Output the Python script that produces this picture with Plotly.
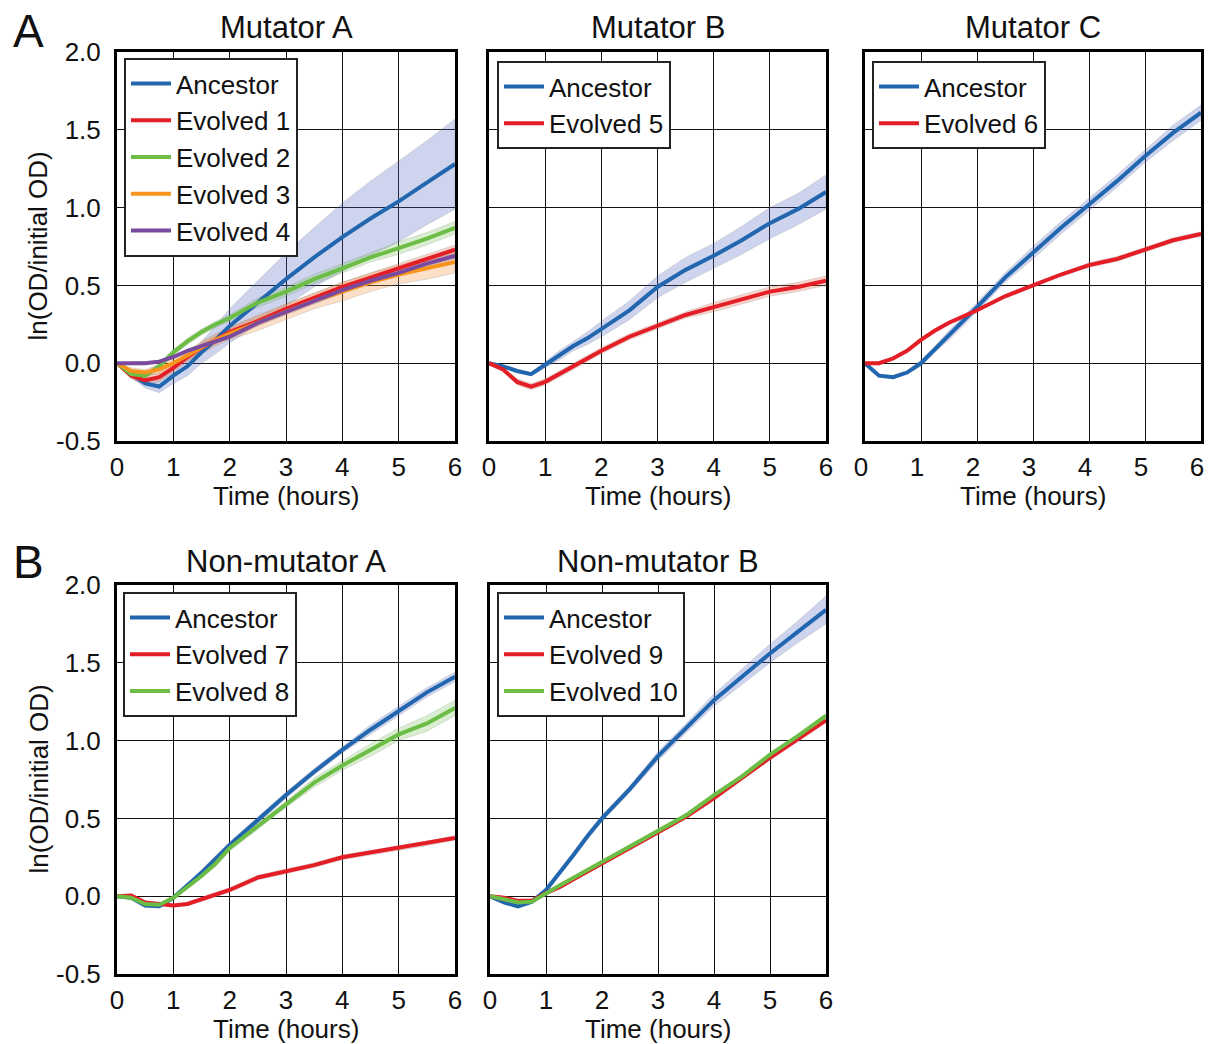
import plotly.graph_objects as go

# page offset (browser body margin) and figure size
OFF = 8
W, H = 1204, 1036

TIME = [0, 0.25, 0.5, 0.75, 1, 1.25, 1.5, 1.75, 2, 2.5, 3, 3.5, 4, 4.5, 5, 5.5, 6]

# ---- Mutator A ----
MA_ANC = [0, -0.07, -0.13, -0.15, -0.08, -0.02, 0.07, 0.15, 0.24, 0.39, 0.54, 0.68, 0.81, 0.93, 1.04, 1.16, 1.28]
MA_ANC_SD = [0, 0.02, 0.03, 0.04, 0.05, 0.06, 0.07, 0.09, 0.11, 0.14, 0.17, 0.19, 0.22, 0.24, 0.26, 0.27, 0.29]
MA_E1 = [0, -0.08, -0.11, -0.09, -0.03, 0.04, 0.10, 0.15, 0.20, 0.27, 0.35, 0.42, 0.49, 0.55, 0.61, 0.67, 0.73]
MA_E1_SD = [0, 0.02, 0.03, 0.03, 0.03, 0.03, 0.03, 0.03, 0.03, 0.03, 0.03, 0.03, 0.03, 0.03, 0.03, 0.03, 0.03]
MA_E2 = [0, -0.07, -0.08, -0.02, 0.07, 0.14, 0.20, 0.25, 0.29, 0.39, 0.46, 0.54, 0.61, 0.68, 0.74, 0.80, 0.87]
MA_E2_SD = [0, 0.01, 0.02, 0.02, 0.02, 0.02, 0.02, 0.02, 0.02, 0.03, 0.03, 0.03, 0.03, 0.03, 0.04, 0.04, 0.04]
MA_E3 = [0, -0.05, -0.06, -0.04, 0.00, 0.05, 0.10, 0.15, 0.19, 0.26, 0.33, 0.40, 0.46, 0.52, 0.57, 0.61, 0.65]
MA_E3_SD = [0, 0.02, 0.02, 0.03, 0.03, 0.03, 0.04, 0.04, 0.04, 0.05, 0.05, 0.05, 0.06, 0.06, 0.06, 0.07, 0.07]
MA_E4 = [0, 0.0, 0.0, 0.01, 0.04, 0.08, 0.11, 0.14, 0.17, 0.26, 0.33, 0.40, 0.47, 0.53, 0.58, 0.64, 0.69]
MA_E4_SD = [0, 0.01, 0.01, 0.01, 0.01, 0.01, 0.01, 0.01, 0.01, 0.02, 0.02, 0.02, 0.02, 0.02, 0.02, 0.02, 0.02]

# ---- Mutator B ----
MB_ANC = [0, -0.02, -0.05, -0.07, -0.01, 0.05, 0.11, 0.16, 0.22, 0.34, 0.49, 0.60, 0.69, 0.79, 0.90, 0.99, 1.10]
MB_ANC_SD = [0, 0.01, 0.01, 0.01, 0.02, 0.03, 0.03, 0.04, 0.05, 0.06, 0.07, 0.08, 0.08, 0.09, 0.10, 0.10, 0.11]
MB_E5 = [0, -0.04, -0.12, -0.15, -0.12, -0.07, -0.02, 0.03, 0.08, 0.17, 0.24, 0.31, 0.36, 0.41, 0.46, 0.49, 0.53]
MB_E5_SD = [0, 0.01, 0.02, 0.02, 0.02, 0.02, 0.02, 0.02, 0.02, 0.02, 0.02, 0.02, 0.03, 0.03, 0.03, 0.03, 0.03]

# ---- Mutator C ----
MC_ANC = [0, -0.08, -0.09, -0.06, 0.0, 0.09, 0.18, 0.27, 0.36, 0.55, 0.71, 0.87, 1.02, 1.17, 1.33, 1.48, 1.61]
MC_ANC_SD = [0, 0.01, 0.01, 0.01, 0.02, 0.02, 0.03, 0.03, 0.03, 0.03, 0.04, 0.04, 0.04, 0.04, 0.04, 0.05, 0.05]
MC_E6 = [0, 0.0, 0.03, 0.08, 0.15, 0.21, 0.26, 0.30, 0.34, 0.43, 0.50, 0.57, 0.63, 0.67, 0.73, 0.79, 0.83]
MC_E6_SD = [0, 0.01, 0.01, 0.01, 0.01, 0.01, 0.01, 0.01, 0.01, 0.01, 0.01, 0.01, 0.015, 0.015, 0.015, 0.015, 0.015]

# ---- Non-mutator A ----
NA_ANC = [0, -0.01, -0.06, -0.065, -0.01, 0.07, 0.15, 0.24, 0.33, 0.49, 0.65, 0.80, 0.94, 1.07, 1.19, 1.31, 1.41]
NA_ANC_SD = [0, 0.01, 0.01, 0.01, 0.01, 0.01, 0.02, 0.02, 0.02, 0.02, 0.02, 0.02, 0.02, 0.03, 0.03, 0.03, 0.03]
NA_E7 = [0, 0.005, -0.04, -0.05, -0.06, -0.05, -0.02, 0.01, 0.04, 0.12, 0.16, 0.20, 0.25, 0.28, 0.31, 0.34, 0.375]
NA_E7_SD = [0, 0.01, 0.01, 0.01, 0.01, 0.01, 0.015, 0.015, 0.015, 0.015, 0.015, 0.015, 0.015, 0.015, 0.015, 0.015, 0.015]
NA_E8 = [0, -0.01, -0.05, -0.055, -0.01, 0.06, 0.13, 0.21, 0.31, 0.45, 0.59, 0.73, 0.84, 0.94, 1.04, 1.11, 1.21]
NA_E8_SD = [0, 0.01, 0.01, 0.01, 0.01, 0.01, 0.01, 0.02, 0.02, 0.02, 0.02, 0.03, 0.03, 0.04, 0.04, 0.05, 0.05]

# ---- Non-mutator B ----
NB_ANC = [0, -0.04, -0.065, -0.035, 0.04, 0.15, 0.27, 0.39, 0.50, 0.69, 0.90, 1.08, 1.26, 1.41, 1.56, 1.70, 1.84]
NB_ANC_SD = [0, 0.01, 0.01, 0.01, 0.01, 0.01, 0.02, 0.02, 0.02, 0.02, 0.03, 0.03, 0.04, 0.05, 0.06, 0.07, 0.09]
NB_E9 = [0, -0.01, -0.03, -0.03, 0.02, 0.06, 0.11, 0.16, 0.21, 0.31, 0.41, 0.51, 0.63, 0.76, 0.89, 1.01, 1.13]
NB_E9_SD = [0, 0.01, 0.01, 0.01, 0.01, 0.01, 0.01, 0.01, 0.01, 0.01, 0.01, 0.01, 0.01, 0.01, 0.01, 0.01, 0.01]
NB_E10 = [0, -0.02, -0.04, -0.035, 0.02, 0.07, 0.12, 0.17, 0.22, 0.32, 0.42, 0.52, 0.65, 0.77, 0.91, 1.03, 1.16]
NB_E10_SD = [0, 0.01, 0.01, 0.01, 0.01, 0.01, 0.01, 0.01, 0.01, 0.01, 0.01, 0.01, 0.01, 0.01, 0.01, 0.01, 0.01]

X_TICKS = [0, 1, 2, 3, 4, 5, 6]
Y_TICKS = [-0.5, 0.0, 0.5, 1.0, 1.5, 2.0]
Y_TICK_TEXT = ["-0.5", "0.0", "0.5", "1.0", "1.5", "2.0"]

COLORS = {
    "blue": ("#2166ae", "rgba(80,100,190,0.28)"),
    "red": ("#e31e26", "rgba(235,110,80,0.30)"),
    "green": ("#6cbd45", "rgba(120,190,90,0.28)"),
    "orange": ("#f7941d", "rgba(245,150,70,0.30)"),
    "purple": ("#7a4a9e", "rgba(140,100,180,0.25)"),
}

# panel pixel boxes on the page (left, right, top, bottom)
PANELS = [
    dict(title="Mutator A", box=(117, 455, 52, 441), ylabels=True,
         legend=(124, 58), xshift=0,
         series=[("Ancestor", MA_ANC, MA_ANC_SD, "blue"),
                 ("Evolved 1", MA_E1, MA_E1_SD, "red"),
                 ("Evolved 2", MA_E2, MA_E2_SD, "green"),
                 ("Evolved 3", MA_E3, MA_E3_SD, "orange"),
                 ("Evolved 4", MA_E4, MA_E4_SD, "purple")]),
    dict(title="Mutator B", box=(489, 826, 52, 441), ylabels=False,
         legend=(497, 61), xshift=0,
         series=[("Ancestor", MB_ANC, MB_ANC_SD, "blue"),
                 ("Evolved 5", MB_E5, MB_E5_SD, "red")]),
    dict(title="Mutator C", box=(865, 1201, 52, 441), ylabels=False,
         legend=(872, 61), xshift=-4,
         series=[("Ancestor", MC_ANC, MC_ANC_SD, "blue"),
                 ("Evolved 6", MC_E6, MC_E6_SD, "red")]),
    dict(title="Non-mutator A", box=(117, 455, 585, 974), ylabels=True,
         legend=(123, 592), xshift=0,
         series=[("Ancestor", NA_ANC, NA_ANC_SD, "blue"),
                 ("Evolved 7", NA_E7, NA_E7_SD, "red"),
                 ("Evolved 8", NA_E8, NA_E8_SD, "green")]),
    dict(title="Non-mutator B", box=(490, 826, 585, 974), ylabels=False,
         legend=(497, 592), xshift=0,
         series=[("Ancestor", NB_ANC, NB_ANC_SD, "blue"),
                 ("Evolved 9", NB_E9, NB_E9_SD, "red"),
                 ("Evolved 10", NB_E10, NB_E10_SD, "green")]),
]

FONT = "Liberation Sans, Arial, sans-serif"
FS = 26


def px(x):
    return (x - OFF) / W


def py(y):
    return 1 - (y - OFF) / H


fig = go.Figure()
layout = dict(
    width=W, height=H, margin=dict(l=0, r=0, t=0, b=0, autoexpand=False),
    paper_bgcolor="white", plot_bgcolor="white",
    font=dict(family=FONT, color="#111", size=FS),
    annotations=[], showlegend=True,
)


def ann(text, xpx, ypx, size, angle=0):
    return dict(text=text, x=px(xpx), y=py(ypx), xref="paper", yref="paper",
                xanchor="center", yanchor="middle", showarrow=False, textangle=angle,
                font=dict(size=size, family=FONT, color="#111"))


for i, p in enumerate(PANELS):
    n = i + 1
    xa = "xaxis" if n == 1 else f"xaxis{n}"
    ya = "yaxis" if n == 1 else f"yaxis{n}"
    xr = "x" if n == 1 else f"x{n}"
    yr = "y" if n == 1 else f"y{n}"
    lg = "legend" if n == 1 else f"legend{n}"
    l, r, t, b = p["box"]
    layout[xa] = dict(
        domain=[px(l), px(r)], anchor=yr, range=[0, 6], tickvals=X_TICKS,
        showgrid=True, gridcolor="#111", gridwidth=1, zeroline=False,
        showline=True, mirror=True, linecolor="#000", linewidth=3,
        ticks="", ticklabelstandoff=1, ticklabelshift=p["xshift"],
        tickfont=dict(size=FS, family=FONT, color="#111"),
        automargin=False, fixedrange=True,
    )
    layout[ya] = dict(
        domain=[py(b), py(t)], anchor=xr, range=[-0.5, 2.0],
        tickvals=Y_TICKS, ticktext=Y_TICK_TEXT, showticklabels=p["ylabels"],
        showgrid=True, gridcolor="#111", gridwidth=1, zeroline=False,
        showline=True, mirror=True, linecolor="#000", linewidth=3,
        ticks="", ticklabelstandoff=8, tickfont=dict(size=FS, family=FONT, color="#111"),
        automargin=False, fixedrange=True,
    )
    lx, ly = p["legend"]
    layout[lg] = dict(
        x=px(lx), y=py(ly), xanchor="left", yanchor="top", xref="paper", yref="paper",
        bgcolor="white", bordercolor="#222", borderwidth=2,
        font=dict(size=FS, family=FONT, color="#111"),
        traceorder="normal", itemwidth=40,
    )
    layout["annotations"].append(ann(p["title"], (l + r) / 2, t - 24, 31))
    layout["annotations"].append(ann("Time (hours)", (l + r) / 2, b + 55, FS))
    if p["ylabels"]:
        layout["annotations"].append(ann("ln(OD/initial OD)", 38, (t + b) / 2, FS, -90))
    for name, mean, sd, c in p["series"]:
        lc, fc = COLORS[c]
        upper = [m + s for m, s in zip(mean, sd)]
        lower = [m - s for m, s in zip(mean, sd)]
        fig.add_trace(go.Scatter(
            x=TIME + TIME[::-1], y=upper + lower[::-1], xaxis=xr, yaxis=yr,
            fill="toself", fillcolor=fc, line=dict(color="rgba(120,120,120,0.35)", width=0.6),
            mode="lines", showlegend=False, hoverinfo="skip", legend=lg,
        ))
    for name, mean, sd, c in p["series"]:
        lc, fc = COLORS[c]
        fig.add_trace(go.Scatter(
            x=TIME, y=mean, xaxis=xr, yaxis=yr, mode="lines", name=name,
            line=dict(color=lc, width=4), legend=lg,
        ))

layout["annotations"].append(ann("A", 28, 31, 46))
layout["annotations"].append(ann("B", 28, 562, 46))

fig.update_layout(**layout)
fig.write_html("out.html")
